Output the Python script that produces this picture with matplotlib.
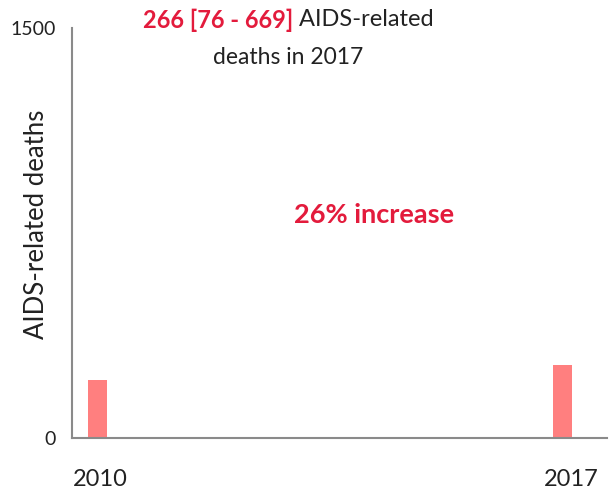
import matplotlib.pyplot as plt

years = [2010, 2017]
deaths = [211, 266]
tick_labels = ["2010", "2017"]
y_ticks = [0, 1500]

bar_color = "#FF7F7F"
red = "#E31B3C"
dark = "#222222"

plt.rcParams["font.family"] = ["Lato", "DejaVu Sans"]

fig = plt.figure(figsize=(6.16, 4.95), dpi=100)
ax = fig.add_axes([72 / 616, 1 - 438 / 495, (607 - 72) / 616, (438 - 28) / 495])

ax.bar(years, deaths, width=0.29, color=bar_color)
ax.set_xlim(2010 - 0.384, 2017.67)
ax.set_ylim(0, 1500)

# year labels sit a little right of the bars in the original
ax.set_xticks([])
for yr, lab, dx in zip(years, tick_labels, [2.5, 8.5]):
    ax.annotate(lab, xy=(yr, 0), xytext=(dx * 0.72, -42 * 0.72),
                textcoords="offset points", ha="center", va="center",
                fontsize=17, color=dark, annotation_clip=False)

ax.set_yticks(y_ticks)
ax.set_yticklabels([str(v) for v in y_ticks], fontsize=14, color=dark)
ax.tick_params(axis="y", length=0, pad=11.5)

for side in ["top", "right"]:
    ax.spines[side].set_visible(False)
for side in ["left", "bottom"]:
    ax.spines[side].set_color("#8a8a8a")
    ax.spines[side].set_linewidth(1.5)

fig.text(37 / 616, 1 - 224 / 495, "AIDS-related deaths", fontsize=18.5, color=dark,
         rotation=90, ha="center", va="center")

# headline above the plot
fig.text(293 / 616, 1 - 20 / 495, "266 [76 - 669]", fontsize=17, fontweight="bold",
         color=red, ha="right", va="center")
fig.text(293 / 616, 1 - 20 / 495, " AIDS-related", fontsize=17, color=dark,
         ha="left", va="center")
fig.text(288 / 616, 1 - 57 / 495, "deaths in 2017", fontsize=16.5, color=dark,
         ha="center", va="center")

fig.text(374 / 616, 1 - 215 / 495, "26% increase", fontsize=19.5, fontweight="bold",
         color=red, ha="center", va="center")

plt.savefig("out.png", dpi=100)
plt.close()
